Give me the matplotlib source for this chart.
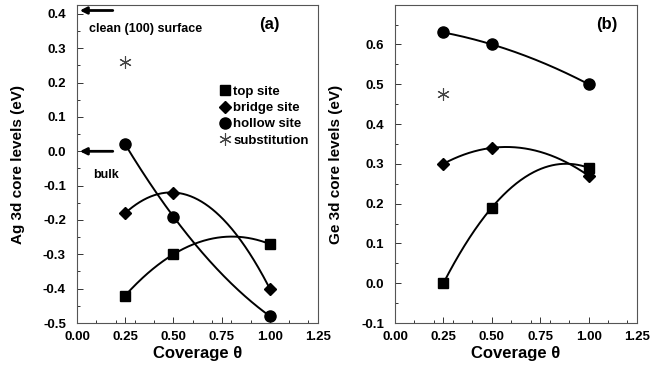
import numpy as np
import matplotlib.pyplot as plt
from matplotlib.ticker import MultipleLocator

plt.rcParams['font.family'] = ['Liberation Sans', 'DejaVu Sans']
plt.rcParams['font.weight'] = 'bold'
plt.rcParams['axes.unicode_minus'] = False

# coverage values
theta = [0.25, 0.5, 1.0]

# panel (a): Ag 3d core levels
ag_top = [-0.42, -0.30, -0.27]
ag_bridge = [-0.18, -0.12, -0.40]
ag_hollow = [0.02, -0.19, -0.48]
ag_subst = 0.26

# panel (b): Ge 3d core levels
ge_top = [0.00, 0.19, 0.29]
ge_bridge = [0.30, 0.34, 0.27]
ge_hollow = [0.63, 0.60, 0.50]
ge_subst = 0.475

clean_level = 0.41
bulk_level = 0.0

star = (6, 2, 0)


def draw(ax, top, bridge, hollow, subst):
    xs = np.linspace(0.25, 1.0, 200)
    for vals, m, ms in [(top, 's', 7), (bridge, 'D', 6), (hollow, 'o', 8)]:
        c = np.polyfit(theta, vals, 2)
        ax.plot(xs, np.polyval(c, xs), color='black', lw=1.4)
        ax.plot(theta, vals, ls='none', marker=m, ms=ms, color='black')
    ax.plot([0.25], [subst], ls='none', marker=star, ms=9, color='#444444',
            mew=0.8)
    ax.set_xlim(0, 1.25)
    ax.xaxis.set_major_locator(MultipleLocator(0.25))
    ax.xaxis.set_minor_locator(MultipleLocator(0.1))
    ax.yaxis.set_major_locator(MultipleLocator(0.1))
    ax.yaxis.set_minor_locator(MultipleLocator(0.05))
    ax.xaxis.set_major_formatter(plt.FormatStrFormatter('%.2f'))
    ax.yaxis.set_major_formatter(plt.FormatStrFormatter('%.1f'))
    ax.tick_params(which='both', direction='in', top=False, right=False,
                   labelsize=9.5, width=0.7, color='#333333')
    ax.tick_params(axis='x', pad=6)
    ax.tick_params(axis='y', pad=8)
    ax.tick_params(which='major', length=4)
    ax.tick_params(which='minor', length=2)
    for s in ax.spines.values():
        s.set_color('#555555')
        s.set_linewidth(0.8)
    ax.set_xlabel('Coverage θ', fontsize=12, fontweight='bold', labelpad=2)


def bold_ticks(ax):
    for t in ax.xaxis.get_major_ticks() + ax.yaxis.get_major_ticks():
        t.label1.set_fontweight('bold')


fig = plt.figure(figsize=(6.51, 3.66), dpi=100)
ax1 = fig.add_axes([77 / 651, 43 / 366, 241 / 651, 318 / 366])
ax2 = fig.add_axes([395 / 651, 43 / 366, 242 / 651, 318 / 366])

draw(ax1, ag_top, ag_bridge, ag_hollow, ag_subst)
ax1.set_ylim(-0.5, 0.426)
ax1.set_ylabel('Ag 3d core levels (eV)', fontsize=11, fontweight='bold',
               labelpad=13)
ax1.annotate('', xy=(0.0, clean_level), xytext=(0.2, clean_level),
             arrowprops=dict(arrowstyle='-|>', color='black', lw=2,
                             mutation_scale=10))
ax1.annotate('', xy=(0.0, bulk_level), xytext=(0.2, bulk_level),
             arrowprops=dict(arrowstyle='-|>', color='black', lw=2,
                             mutation_scale=10))
ax1.text(0.06, 0.355, 'clean (100) surface', fontsize=9, fontweight='bold',
         va='center')
ax1.text(0.085, -0.07, 'bulk', fontsize=9, fontweight='bold', va='center')
ax1.text(1.0, 0.37, '(a)', fontsize=12, fontweight='bold', ha='center',
         va='center')

h = [plt.Line2D([], [], ls='none', marker='s', ms=7, color='black'),
     plt.Line2D([], [], ls='none', marker='D', ms=6, color='black'),
     plt.Line2D([], [], ls='none', marker='o', ms=8, color='black'),
     plt.Line2D([], [], ls='none', marker=star, ms=9, color='#444444',
                mew=0.8)]
ax1.legend(h, ['top site', 'bridge site', 'hollow site', 'substitution'],
           frameon=False, loc='upper left', bbox_to_anchor=(0.56, 0.775),
           handlelength=0.6, handletextpad=0.3, labelspacing=0.3,
           borderpad=0.2, prop={'weight': 'bold', 'size': 9.5})

draw(ax2, ge_top, ge_bridge, ge_hollow, ge_subst)
ax2.set_ylim(-0.1, 0.699)
ax2.set_ylabel('Ge 3d core levels (eV)', fontsize=11, fontweight='bold',
               labelpad=13)
ax2.text(1.095, 0.65, '(b)', fontsize=12, fontweight='bold', ha='center',
         va='center')

fig.canvas.draw()
bold_ticks(ax1)
bold_ticks(ax2)

fig.savefig('out.png', dpi=100)
